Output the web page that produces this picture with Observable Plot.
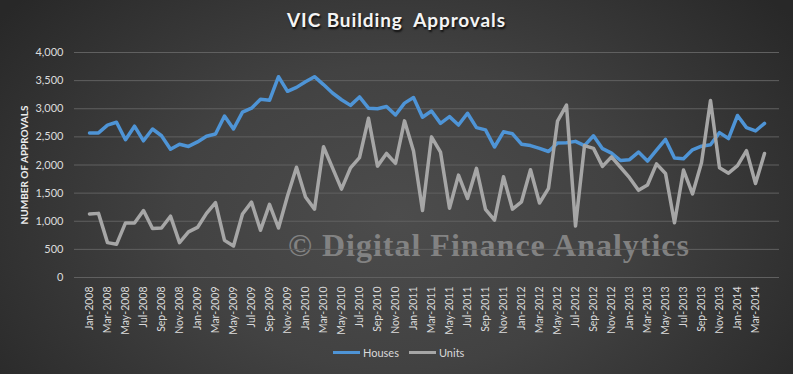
<!DOCTYPE html>
<html><head><meta charset="utf-8">
<script src="https://cdn.jsdelivr.net/npm/d3@7"></script>
<script src="https://cdn.jsdelivr.net/npm/@observablehq/plot@0.6"></script>
<style>
html,body{margin:0;padding:0;}
body{width:793px;height:374px;overflow:hidden;position:relative;font-family:Lato,"Open Sans",sans-serif;
 background:radial-gradient(ellipse 62% 90% at 50% 58%, #4c4c4c 0%, #424242 45%, #282828 100%);}
#title{position:absolute;left:0;top:8px;width:793px;text-align:center;font-weight:bold;font-size:19px;letter-spacing:0.9px;color:#f4f4f4;white-space:pre;text-shadow:1px 2px 2px rgba(0,0,0,0.8);}
#chart{position:absolute;left:0;top:40px;}
#wm{position:absolute;left:288px;top:227px;font-family:"Liberation Serif","DejaVu Serif",serif;font-weight:bold;font-size:32px;letter-spacing:1px;color:#8d8d8d;opacity:0.85;white-space:pre;}
#legend{position:absolute;top:346px;left:333px;font-size:11px;color:#d9d9d9;display:flex;align-items:center;white-space:pre;}
#legend .sw{display:inline-block;width:27px;height:3px;margin-right:3px;}
</style></head>
<body>
<div id="title">VIC Building  Approvals</div>
<div id="wm">© Digital Finance Analytics</div>
<div id="chart"></div>
<div id="legend"><span class="sw" style="background:#4e94d6"></span><span>Houses</span><span style="width:10px;display:inline-block"></span><span class="sw" style="background:#a6a6a6"></span><span>Units</span></div>
<script>
const categories = [
 "Jan-2008","Feb-2008","Mar-2008","Apr-2008","May-2008","Jun-2008","Jul-2008","Aug-2008","Sep-2008","Oct-2008","Nov-2008","Dec-2008",
 "Jan-2009","Feb-2009","Mar-2009","Apr-2009","May-2009","Jun-2009","Jul-2009","Aug-2009","Sep-2009","Oct-2009","Nov-2009","Dec-2009",
 "Jan-2010","Feb-2010","Mar-2010","Apr-2010","May-2010","Jun-2010","Jul-2010","Aug-2010","Sep-2010","Oct-2010","Nov-2010","Dec-2010",
 "Jan-2011","Feb-2011","Mar-2011","Apr-2011","May-2011","Jun-2011","Jul-2011","Aug-2011","Sep-2011","Oct-2011","Nov-2011","Dec-2011",
 "Jan-2012","Feb-2012","Mar-2012","Apr-2012","May-2012","Jun-2012","Jul-2012","Aug-2012","Sep-2012","Oct-2012","Nov-2012","Dec-2012",
 "Jan-2013","Feb-2013","Mar-2013","Apr-2013","May-2013","Jun-2013","Jul-2013","Aug-2013","Sep-2013","Oct-2013","Nov-2013","Dec-2013",
 "Jan-2014","Feb-2014","Mar-2014","Apr-2014"];
const houses = [
 2570,2570,2710,2760,2450,2690,2430,2640,2520,2280,2370,2330,
 2410,2510,2550,2870,2640,2940,3010,3170,3150,3570,3310,3380,
 3480,3570,3430,3280,3160,3060,3210,3010,3000,3040,2890,3100,
 3200,2850,2960,2740,2860,2710,2920,2665,2625,2320,2590,2555,
 2370,2345,2295,2240,2390,2395,2420,2345,2520,2290,2210,2080,
 2095,2230,2070,2265,2455,2125,2110,2270,2335,2360,2575,2470,
 2880,2665,2605,2740];
const units = [
 1130,1140,620,590,970,970,1190,870,880,1090,620,810,
 890,1140,1330,660,560,1130,1340,840,1300,880,1450,1960,
 1430,1215,2325,1950,1570,1950,2130,2830,1980,2205,2030,2785,
 2250,1190,2500,2230,1230,1820,1405,1940,1210,1020,1790,1215,
 1345,1915,1325,1585,2780,3065,915,2345,2295,1975,2145,1960,
 1775,1550,1645,2020,1850,972,1910,1485,2040,3145,1950,1855,
 1990,2255,1670,2205];
const tickLabels = [
 "Jan-2008","Mar-2008","May-2008","Jul-2008","Sep-2008","Nov-2008",
 "Jan-2009","Mar-2009","May-2009","Jul-2009","Sep-2009","Nov-2009",
 "Jan-2010","Mar-2010","May-2010","Jul-2010","Sep-2010","Nov-2010",
 "Jan-2011","Mar-2011","May-2011","Jul-2011","Sep-2011","Nov-2011",
 "Jan-2012","Mar-2012","May-2012","Jul-2012","Sep-2012","Nov-2012",
 "Jan-2013","Mar-2013","May-2013","Jul-2013","Sep-2013","Nov-2013",
 "Jan-2014","Mar-2014"];
const yTicks = [0,500,1000,1500,2000,2500,3000,3500,4000];
const yTitle = "NUMBER OF APPROVALS";

const data = categories.map((m,i)=>({month:m, houses:houses[i], units:units[i]}));

const chart = Plot.plot({
  width: 793, height: 292,
  marginLeft: 74, marginRight: 14, marginTop: 12, marginBottom: 55,
  style: {background: "transparent", color: "#d9d9d9", fontFamily: "Lato, 'Open Sans', sans-serif", overflow: "visible"},
  x: {type: "point", domain: categories, padding: 0.5},
  y: {domain: [0, 4000]},
  marks: [
    Plot.gridY(yTicks, {stroke: "#606060", strokeOpacity: 1, strokeWidth: 1}),
    Plot.axisY(yTicks, {tickSize: 0, tickPadding: 11, tickFormat: d3.format(","), fontSize: 11, fill: "#dcdcdc", label: null}),
    Plot.axisX(tickLabels, {tickSize: 0, tickRotate: -90, tickPadding: 9, fontSize: 10.5, fill: "#dcdcdc", label: null}),
    Plot.text([yTitle], {frameAnchor: "left", text: d => d, rotate: -90, dx: -50, textAnchor: "middle", fontWeight: "bold", fontSize: 10, fill: "#ececec"}),
    Plot.line(data, {x: "month", y: "houses", stroke: "#4e94d6", strokeWidth: 3.5, strokeLinejoin: "round"}),
    Plot.line(data, {x: "month", y: "units", stroke: "#a6a6a6", strokeWidth: 3.5, strokeLinejoin: "round"})
  ]
});
document.getElementById("chart").appendChild(chart);
</script>
</body></html>
